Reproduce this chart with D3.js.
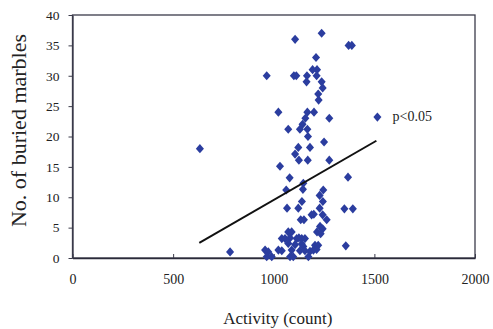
<!DOCTYPE html>
<html>
<head>
<meta charset="utf-8">
<script src="https://cdn.jsdelivr.net/npm/d3@7"></script>
<style>
  body { margin: 0; background: #fff; }
  text { font-family: "Liberation Serif", "DejaVu Serif", serif; fill: #222; }
</style>
</head>
<body>
<div id="chart"></div>
<script>
// activity (count) vs no. of buried marbles
const activity = [
    1238, 1106, 1372, 1388, 1210, 1193, 1215,
    965, 1100, 1112, 1165, 1213, 1163, 1238, 1243, 1221, 1223,
    1023, 1167, 1200, 1157, 1276, 1515, 1143, 1072, 1130, 1167, 1170,
    1250, 633, 1122, 1180, 1106, 1125, 1169, 1276, 1031,
    1079, 1369, 1147, 1062, 1145, 1246, 1228, 1140, 1244,
    1066, 1122, 1228, 1351, 1393, 1188, 1199, 1243, 1134, 1150, 1263,
    1230, 1243, 1072, 1089, 1215, 1233,
    1040, 1056, 1081, 1114, 1125, 1139, 1155,
    1072, 1106, 1139, 1147, 1205, 1221, 1358,
    783, 957, 973, 1023, 1040, 1089, 1130, 1155, 1180, 1197, 1213,
    965, 990, 1081, 1097, 1172
];
const marbles = [
    37, 36, 35, 35, 33, 31, 31,
    30, 30, 30, 30, 30, 29, 29, 28, 27, 26,
    24, 24, 24, 23, 23, 23.2, 22, 21.2, 21.2, 21.2, 20,
    19.1, 18, 18.2, 18.2, 17.1, 16.1, 16.1, 16.1, 15.1,
    13.2, 13.3, 12.3, 11.2, 11.3, 11.2, 10.3, 9.3, 9.3,
    8.2, 8.2, 8.2, 8.1, 8.1, 7.1, 7.2, 7.1, 6.3, 6.3, 6.3,
    5.2, 4.8, 4.3, 4.3, 4.3, 4.0,
    3.2, 3.2, 3.3, 3.2, 3.3, 3.2, 3.2,
    2.4, 2.2, 2.3, 1.9, 2.1, 2.1, 2.0,
    1.0, 1.3, 1.0, 1.3, 1.2, 1.3, 1.2, 1.2, 1.1, 1.3, 1.4,
    0.2, 0.2, 0.2, 0.2, 0.2
];
// fitted line ends
const fitX = [630, 1510];
const fitY = [2.5, 19.3];
const xTicks = [0, 500, 1000, 1500, 2000];
const yTicks = [0, 5, 10, 15, 20, 25, 30, 35, 40];

const points = activity.map((a, i) => ({ x: a, y: marbles[i] }));

const W = 493, H = 329;
const margin = { top: 15, right: 18, bottom: 71, left: 72.5 };
const width = W - margin.left - margin.right;
const height = H - margin.top - margin.bottom;

const xScale = d3.scaleLinear().domain([0, 2000]).range([0, width]);
const yScale = d3.scaleLinear().domain([0, 40]).range([height, 0]);

const svg = d3.select('#chart')
    .append('svg')
    .attr('width', W)
    .attr('height', H)
    .append('g')
    .attr('transform', `translate(${margin.left}, ${margin.top})`);

// plot frame
svg.append('rect')
    .attr('width', width)
    .attr('height', height)
    .attr('fill', 'none')
    .attr('stroke', '#3b3b4a')
    .attr('stroke-width', 1.3);

// x axis, ticks inside
const xAxis = svg.append('g')
    .attr('transform', `translate(0, ${height})`)
    .call(d3.axisBottom(xScale).tickValues(xTicks).tickFormat(d3.format('d'))
        .tickSizeInner(-4).tickSizeOuter(0).tickPadding(16));
xAxis.select('.domain').attr('stroke', '#2a2a3a').attr('stroke-width', 1.5);
xAxis.selectAll('line').attr('stroke', '#3b3b4a');
xAxis.selectAll('text').style('font-size', '14px').attr('fill', '#222');

// y axis, ticks outside
const yAxis = svg.append('g')
    .call(d3.axisLeft(yScale).tickValues(yTicks).tickSizeInner(4).tickSizeOuter(0).tickPadding(9));
yAxis.select('.domain').attr('stroke', '#3b3b4a').attr('stroke-width', 1.3);
yAxis.selectAll('line').attr('stroke', '#3b3b4a');
yAxis.selectAll('text').style('font-size', '13.5px').attr('fill', '#222');

// points as squat diamonds
const diamond = d3.symbol().type(d3.symbolDiamond).size(22);
svg.selectAll('.pt')
    .data(points)
    .enter()
    .append('path')
    .attr('class', 'pt')
    .attr('d', diamond)
    .attr('transform', d => `translate(${xScale(d.x)}, ${yScale(d.y)}) scale(1.6, 1.05)`)
    .attr('fill', '#2b3d9f');

// regression line
const line = d3.line().x(d => xScale(d[0])).y(d => yScale(d[1]));
svg.append('path')
    .datum(fitX.map((x, i) => [x, fitY[i]]))
    .attr('fill', 'none')
    .attr('stroke', '#111')
    .attr('stroke-width', 2)
    .attr('d', line);

svg.append('text')
    .attr('x', xScale(1590))
    .attr('y', yScale(22.5))
    .style('font-size', '14px')
    .text('p<0.05');

// titles
svg.append('text')
    .attr('x', xScale(1020))
    .attr('y', height + 66)
    .attr('text-anchor', 'middle')
    .style('font-size', '17px')
    .text('Activity (count)');

svg.append('text')
    .attr('transform', `translate(${-47}, ${height / 2 - 6}) rotate(-90)`)
    .attr('text-anchor', 'middle')
    .style('font-size', '22px')
    .text('No. of buried marbles');
</script>
</body>
</html>
